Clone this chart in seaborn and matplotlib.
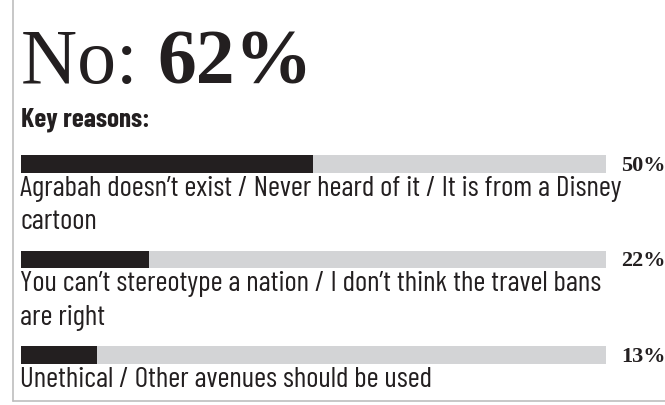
import matplotlib
matplotlib.use("Agg")
import matplotlib.pyplot as plt
from matplotlib.lines import Line2D
import seaborn as sns
import pandas as pd

# --- data -----------------------------------------------------------------
headline_label = "No:"
headline_value = "62%"
subtitle = "Key reasons:"
reasons = [
    "Agrabah doesn\u2019t exist / Never heard of it / It is from a Disney\ncartoon",
    "You can\u2019t stereotype a nation / I don\u2019t think the travel bans\nare right",
    "Unethical / Other avenues should be used",
]
shares = [50, 22, 13]
scale_max = 100

# --- style ----------------------------------------------------------------
DARK = "#231f20"
TRACK = "#d3d4d6"
FRAME = "#bdbdbd"
W, H = 665, 406

sns.set_theme(style="white")
SANS = ["Barlow Condensed", "Roboto Condensed", "DejaVu Sans"]
SERIF = ["Liberation Serif", "DejaVu Serif"]
plt.rcParams["font.family"] = SANS
label_size = 21
subtitle_size = 19.5

fig = plt.figure(figsize=(W / 100, H / 100), dpi=100)
fig.patch.set_facecolor("white")


def fx(px):
    return px / W


def fy(py):
    return 1 - py / H


# frame along the left and bottom edges
fig.add_artist(Line2D([fx(12.5), fx(12.5)], [fy(0), fy(402)],
                      transform=fig.transFigure, color=FRAME, lw=1.2))
fig.add_artist(Line2D([fx(12.5), fx(W)], [fy(402), fy(402)],
                      transform=fig.transFigure, color=FRAME, lw=1.2))

# headline: regular label followed by the bold figure
t1 = fig.text(fx(21), fy(83.5), headline_label + " ", fontsize=56,
              color=DARK, va="baseline", ha="left", family=SERIF)
fig.canvas.draw()
bb = t1.get_window_extent(renderer=fig.canvas.get_renderer())
fig.text(bb.x1 / W, fy(83.5), headline_value, fontsize=56,
         fontweight="bold", color=DARK, va="baseline", ha="left", family=SERIF)

fig.text(fx(21), fy(126.5), subtitle, fontsize=subtitle_size, fontweight="bold",
         color=DARK, va="baseline", ha="left", family=SANS)

# bars: a full-length track per reason with its share drawn on top
spacing = 95.5
top_c, bot_c = 165, 356
ax_top = top_c - spacing / 2
ax_bot = bot_c + spacing / 2
bar_px = 17.5
ax = fig.add_axes([fx(20.5), fy(ax_bot), (606 - 20.5) / W, (ax_bot - ax_top) / H])

df = pd.DataFrame({"reason": reasons, "share": shares,
                   "full": [scale_max] * len(shares)})
sns.barplot(data=df, y="reason", x="full", color=TRACK, saturation=1,
            width=bar_px / spacing, linewidth=0, orient="h", ax=ax)
sns.barplot(data=df, y="reason", x="share", color=DARK, saturation=1,
            width=bar_px / spacing, linewidth=0, orient="h", ax=ax)
ax.set_xlim(0, scale_max)
ax.set_ylim(len(reasons) - 0.5, -0.5)
ax.axis("off")

half_pt = bar_px / 2 * 0.72
for i, (txt, v) in enumerate(zip(reasons, shares)):
    ax.annotate(f"{v}%", xy=(scale_max, i), xytext=(11, -0.5),
                textcoords="offset points", ha="left", va="center",
                fontsize=16, fontweight="bold", color=DARK, family=SERIF)
    ax.annotate(txt, xy=(0, i), xytext=(0, -half_pt - 1.5),
                textcoords="offset points", ha="left", va="top",
                fontsize=label_size, color=DARK, linespacing=1.38, family=SANS)

fig.savefig("out.png", dpi=100, facecolor="white")
